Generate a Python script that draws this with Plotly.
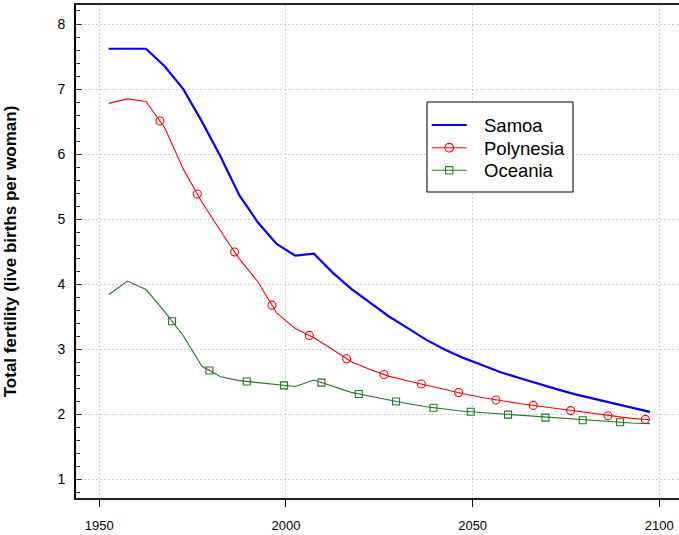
import numpy as np
import plotly.graph_objects as go

years = [1952.5, 1957.5, 1962.5, 1967.5, 1972.5, 1977.5, 1982.5, 1987.5, 1992.5, 1997.5,
         2002.5, 2007.5, 2012.5, 2017.5, 2022.5, 2027.5, 2032.5, 2037.5, 2042.5, 2047.5,
         2052.5, 2057.5, 2062.5, 2067.5, 2072.5, 2077.5, 2082.5, 2087.5, 2092.5, 2097.5]

samoa = [7.62, 7.62, 7.62, 7.35, 7.00, 6.50, 5.96, 5.37, 4.95, 4.62,
         4.44, 4.47, 4.18, 3.93, 3.72, 3.51, 3.33, 3.15, 3.00, 2.87,
         2.76, 2.65, 2.56, 2.47, 2.39, 2.31, 2.24, 2.17, 2.10, 2.04]

polynesia = [6.78, 6.85, 6.81, 6.41, 5.77, 5.26, 4.82, 4.39, 4.04, 3.56,
             3.32, 3.18, 3.00, 2.81, 2.69, 2.59, 2.52, 2.45, 2.39, 2.32,
             2.26, 2.21, 2.17, 2.13, 2.09, 2.05, 2.01, 1.97, 1.94, 1.92]

oceania = [3.84, 4.05, 3.92, 3.58, 3.21, 2.74, 2.58, 2.52, 2.49, 2.46,
           2.43, 2.53, 2.43, 2.34, 2.28, 2.22, 2.17, 2.12, 2.08, 2.05,
           2.03, 2.01, 1.98, 1.96, 1.94, 1.92, 1.90, 1.89, 1.87, 1.86]

series_names = ["Samoa", "Polynesia", "Oceania"]
x_ticks = [1950, 2000, 2050, 2100]
y_ticks = [1, 2, 3, 4, 5, 6, 7, 8]
y_title = "Total fertility (live births per woman)"

# symbols are spaced every 10 years along each line (style, not data)
poly_marker_x = np.arange(1966.25, 2098, 10.0)
ocea_marker_x = np.arange(1969.5, 2098, 10.0)
poly_marker_y = np.interp(poly_marker_x, years, polynesia)
ocea_marker_y = np.interp(ocea_marker_x, years, oceania)

BLUE = "#0000ff"
RED = "#ff0000"
GREEN = "#1f7a1f"
GRID = "#d0d0d0"
FONT = "Liberation Sans, Arial, sans-serif"

W, H = 679, 535
ML, MR, MT, MB = 76, 0, 5, 37
PW, PH = W - ML - MR, H - MT - MB


def px(x):
    return (x - ML) / PW


def py(y):
    return (MT + PH - y) / PH


fig = go.Figure()

fig.add_trace(go.Scatter(x=years, y=samoa, mode="lines", name=series_names[0],
                         line=dict(color=BLUE, width=2.2)))
fig.add_trace(go.Scatter(x=years, y=polynesia, mode="lines", name=series_names[1],
                         line=dict(color=RED, width=1.1)))
fig.add_trace(go.Scatter(x=poly_marker_x, y=poly_marker_y, mode="markers",
                         marker=dict(symbol="circle-open", size=8, color=RED,
                                     line=dict(width=1.1, color=RED))))
fig.add_trace(go.Scatter(x=years, y=oceania, mode="lines", name=series_names[2],
                         line=dict(color=GREEN, width=1.1)))
fig.add_trace(go.Scatter(x=ocea_marker_x, y=ocea_marker_y, mode="markers",
                         marker=dict(symbol="square-open", size=7, color=GREEN,
                                     line=dict(width=1.1, color=GREEN))))

# hand-drawn legend box (R style)
shapes = [dict(type="rect", xref="paper", yref="paper", layer="above",
               x0=px(427), x1=px(573), y0=py(192), y1=py(102),
               line=dict(color="black", width=1), fillcolor="white")]
annotations = []
leg_rows = [125, 147.7, 170.3]
leg_colors = [BLUE, RED, GREEN]
leg_widths = [2.2, 1.1, 1.1]
for i, (row, col, lw, name) in enumerate(zip(leg_rows, leg_colors, leg_widths, series_names)):
    shapes.append(dict(type="line", xref="paper", yref="paper", layer="above",
                       x0=px(431.7), x1=px(466.7), y0=py(row), y1=py(row),
                       line=dict(color=col, width=lw)))
    annotations.append(dict(xref="paper", yref="paper", x=px(482), y=py(row + 0.5),
                            xanchor="left", yanchor="middle", showarrow=False,
                            text=name, font=dict(size=18.5, family=FONT, color="black")))
shapes.append(dict(type="circle", xref="paper", yref="paper", layer="above",
                   x0=px(449.2 - 4.3), x1=px(449.2 + 4.3),
                   y0=py(leg_rows[1] + 4.3), y1=py(leg_rows[1] - 4.3),
                   line=dict(color=RED, width=1.1), fillcolor="rgba(0,0,0,0)"))
shapes.append(dict(type="rect", xref="paper", yref="paper", layer="above",
                   x0=px(449.2 - 3.7), x1=px(449.2 + 3.7),
                   y0=py(leg_rows[2] + 3.7), y1=py(leg_rows[2] - 3.7),
                   line=dict(color=GREEN, width=1.1), fillcolor="rgba(0,0,0,0)"))

fig.update_layout(
    width=W, height=H,
    margin=dict(l=ML, r=MR, t=MT, b=MB, autoexpand=False),
    paper_bgcolor="white", plot_bgcolor="white",
    font=dict(family=FONT, size=13, color="black"),
    showlegend=False,
    shapes=shapes, annotations=annotations,
)

fig.update_xaxes(
    range=[1943.76, 2105.28], tickvals=x_ticks, ticktext=[str(v) for v in x_ticks],
    ticks="outside", ticklen=7, tickwidth=1, tickcolor="black",
    showline=True, linecolor="#222222", linewidth=1.5, mirror=True,
    showgrid=True, gridcolor=GRID, griddash="2px,2px", gridwidth=1,
    zeroline=False, ticklabelstandoff=8, tickfont=dict(size=13),
)
fig.update_yaxes(
    range=[0.717, 8.292], tickvals=y_ticks, ticktext=[str(v) for v in y_ticks],
    ticks="inside", ticklen=6, tickwidth=1, tickcolor="#333333",
    minor=dict(dtick=0.2, tick0=0, ticks="inside", ticklen=4, tickcolor="#333333", showgrid=False),
    showline=True, linecolor="black", linewidth=2, mirror=False,
    showgrid=True, gridcolor=GRID, griddash="2px,2px", gridwidth=1,
    zeroline=False, ticklabelstandoff=6, tickfont=dict(size=14),
    title=dict(text="<b>" + y_title + "</b>",
               font=dict(size=17, family=FONT), standoff=36),
)

fig.write_html("out.html", config={"displayModeBar": False},
               post_script="document.body.style.margin='0';document.body.style.overflow='hidden';")
